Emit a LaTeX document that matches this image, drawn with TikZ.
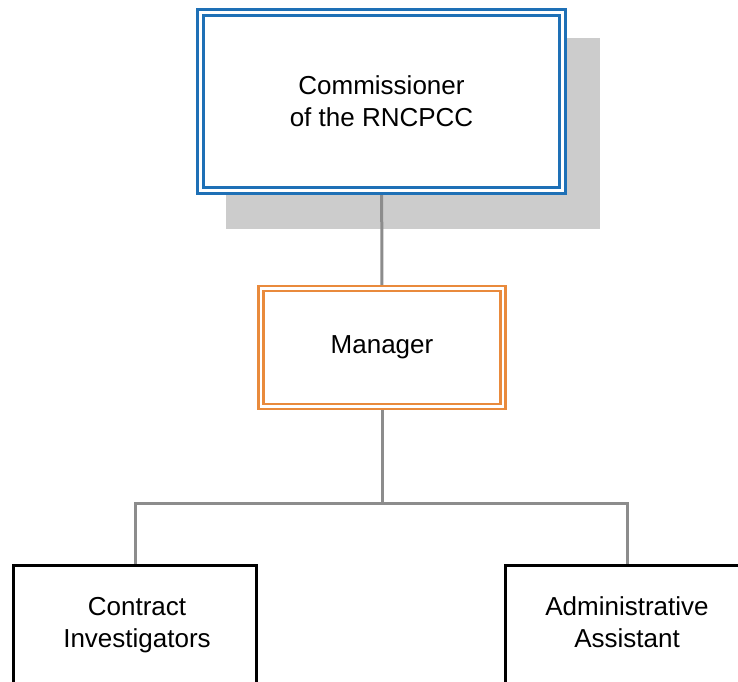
\documentclass[tikz,border=0pt]{standalone}
\usepackage{fontspec}
\setmainfont{Liberation Sans}
\usetikzlibrary{backgrounds}
\definecolor{bossblue}{HTML}{1E70B6}
\definecolor{mgrorange}{HTML}{E98A3C}
\definecolor{linkgray}{HTML}{8C8C8C}
\definecolor{shadowgray}{HTML}{CCCCCC}

\begin{document}
\begin{tikzpicture}[x=1pt, y=-1pt,
    every node/.style={font=\fontsize{26}{32}\selectfont, align=center, inner sep=0pt},
    boss/.style={draw=bossblue, fill=white, double, double distance=3pt, line width=3pt,
        minimum width=362pt, minimum height=178pt},
    mgrbox/.style={draw=mgrorange, fill=white, double, double distance=2.5pt, line width=2.5pt,
        minimum width=242pt, minimum height=118pt},
    leaf/.style={draw=black, line width=3pt, minimum width=243pt, minimum height=160pt, anchor=north},
    link/.style={draw=linkgray, line width=3pt}]
    \useasboundingbox (0,0) rectangle (738,681);
    \node[boss] (comm) at (381.5,101.5) {Commissioner\\of the RNCPCC};
    \node[mgrbox] (mgr) at (382,347.5) {Manager};
    \node[leaf] (inv) at (135,563.5) {};
    \node[leaf] (asst) at (627,563.5) {};
    \node (invtext) at (137,625) {Contract\\Investigators};
    \node (assttext) at (627,622) {Administrative\\Assistant};
    \coordinate (split) at (382,503);
    % shadow and links go under the boxes
    \begin{pgfonlayer}{background}
        \fill[white] (0,0) rectangle (738,681);
        \fill[shadowgray] ([xshift=26.5pt, yshift=-26.5pt]comm.north west)
            rectangle ([xshift=35.5pt, yshift=-36.5pt]comm.south east);
        \draw[link] (comm) -- (mgr);
        \draw[link] (mgr.south) -- (split) -| (inv.north);
        \draw[link] (split) -| (asst.north);
    \end{pgfonlayer}
\end{tikzpicture}
\end{document}
